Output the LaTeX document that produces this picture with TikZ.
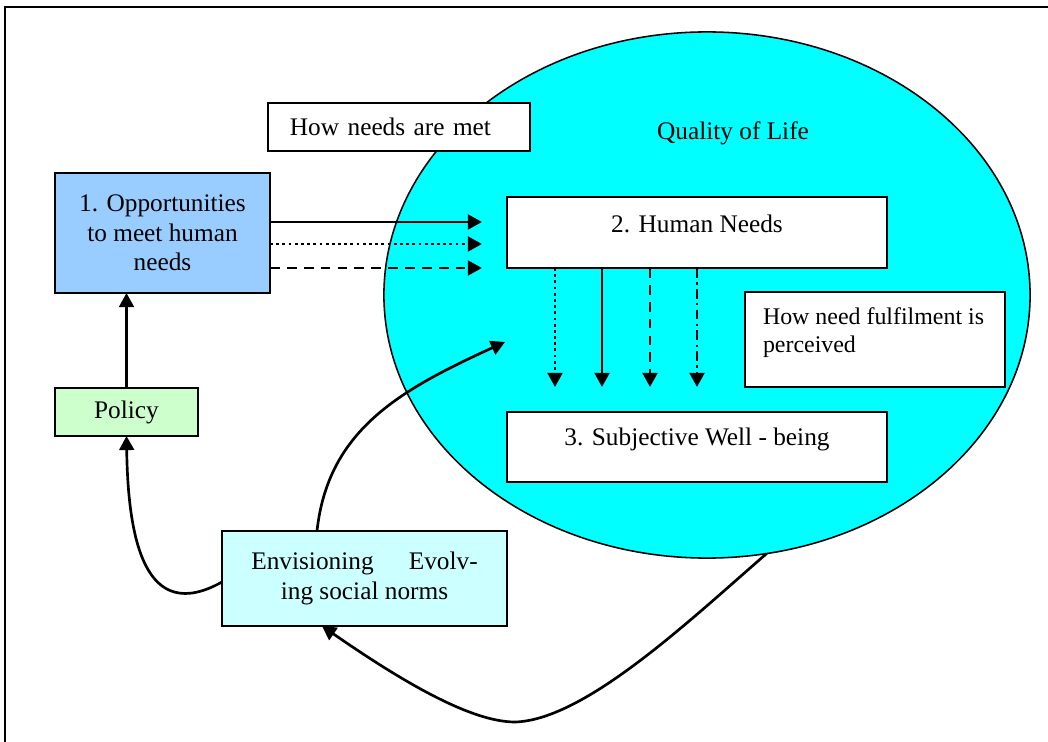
\documentclass[tikz,border=0pt]{standalone}
\usepackage{fontspec}
\setmainfont{Liberation Serif}
\usetikzlibrary{arrows.meta,shapes.geometric}
\definecolor{qolcyan}{HTML}{00FFFF}
\definecolor{oppblue}{HTML}{99CCFF}
\definecolor{policygreen}{HTML}{CCFFCC}
\definecolor{envcyan}{HTML}{CCFFFF}

\begin{document}
\begin{tikzpicture}[x=0.025cm, y=-0.025cm,
        box/.style={draw=black, line width=1pt, inner sep=0pt, outer sep=0pt,
            font=\fontsize{18}{21}\selectfont},
        arr/.style={-{Triangle[length=10pt,width=10.5pt]}, line width=1.9pt},
        gap/.style={shorten >=0.625cm},
        dotline/.style={dash pattern=on 2pt off 2.4pt},
        dashline/.style={dash pattern=on 7pt off 5pt},
        dashdotline/.style={dash pattern=on 7pt off 3pt on 1.8pt off 3pt}]
	\useasboundingbox (0,0) rectangle (1048,742);
	\draw[line width=1.4pt] (5,742) -- (5,7) -- (1048,7);

	\node[ellipse, draw, line width=1.1pt, fill=qolcyan, minimum width=16.15cm,
        minimum height=13.15cm, inner sep=0pt, outer sep=0pt] (qol) at (707,295) {};
	\node[font=\fontsize{18}{21}\selectfont] (qoltitle) at (733,133) {Quality of Life};

	\node[box, fill=oppblue, minimum width=5.375cm, minimum height=3cm, align=center]
        (opp) at (162.5,233) {1. Opportunities\\to meet human\\needs};
	\node[box, fill=policygreen, minimum width=3.575cm, minimum height=1.2cm]
        (policy) at (126.5,412) {Policy};
	\node[box, fill=white, minimum height=1.2cm, text width=5.45cm, inner xsep=0.55cm,
        align=left] (howmet) at (399,127) {How needs are met};
	\node[box, fill=white, anchor=north, minimum width=9.5cm, text height=0.875cm,
        text depth=0.9cm] (needs) at (697,197) {2. Human Needs};
	\node[box, fill=white, anchor=north west, inner xsep=0.45cm, inner ysep=0.4cm,
        font=\fontsize{17}{19.5}\selectfont] (perceive) at (745,292)
        {\parbox[c][1.575cm][t]{5.6cm}{\raggedright How need fulfilment is\\perceived}};
	\node[box, fill=white, anchor=north, minimum width=9.5cm, text height=0.825cm,
        text depth=0.925cm] (wellbeing) at (697,412) {3. Subjective Well - being};
	\node[box, fill=envcyan, minimum width=7.125cm, minimum height=2.375cm, align=center]
        (envision) at (364.5,578.5) {Envisioning\hspace{25pt}Evolv-\\ing social norms};

	\draw[arr, gap] (opp.east |- 0,222) -- (needs.west |- 0,222);
	\draw[arr, gap, dotline] (opp.east |- 0,244) -- (needs.west |- 0,244);
	\draw[arr, gap, dashline] (opp.east |- 0,268) -- (needs.west |- 0,268);

	\draw[arr, gap, dotline] (needs.south -| 555,0) -- (wellbeing.north -| 555,0);
	\draw[arr, gap] (needs.south -| 602,0) -- (wellbeing.north -| 602,0);
	\draw[arr, gap, dashline] (needs.south -| 650,0) -- (wellbeing.north -| 650,0);
	\draw[arr, gap, dashdotline] (needs.south -| 697,0) -- (wellbeing.north -| 697,0);

	\draw[arr] (policy.north) -- (policy.north |- opp.south);
	\draw[arr] (envision.west |- 0,582) .. controls (145,625) and (128,540) .. (policy.south);

	\coordinate (qolin) at (505,342);
	\draw[arr] (envision.north -| 317,0) .. controls (328,430) and (400,390) .. (qolin);
	\draw[arr] (qol.-77) .. controls (690,620) and (585,720) .. (515,722)
        .. controls (470,722) and (400,680) .. (envision.south -| 322,0);
\end{tikzpicture}
\end{document}
